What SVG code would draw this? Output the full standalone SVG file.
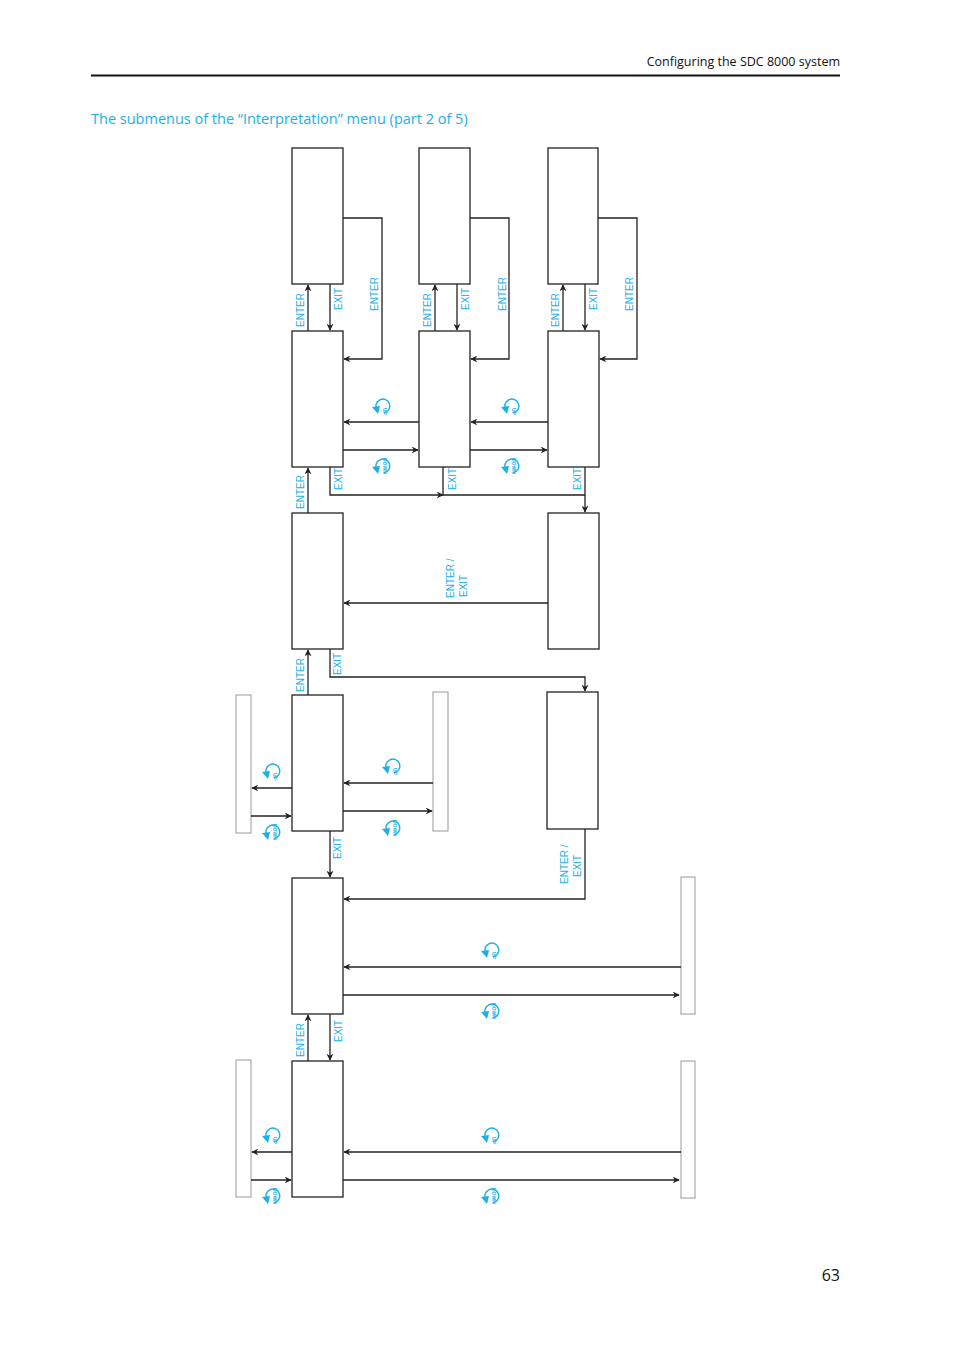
<svg xmlns="http://www.w3.org/2000/svg" width="954" height="1351" viewBox="0 0 954 1351">
<style>
.b{fill:#fff;stroke:#222;stroke-width:1.3}
.g{fill:#fff;stroke:#999;stroke-width:1}
.c line,.c polyline{stroke:#222;stroke-width:1.3;fill:none}
.l{font-family:"Liberation Sans",Arial,sans-serif;font-size:10px;fill:#1ab0e8}
.s{font-family:"Liberation Sans",Arial,sans-serif;font-size:5px;font-weight:bold;fill:#1ab0e8}
.h{font-family:"Open Sans","DejaVu Sans",sans-serif;fill:#111}
</style>
<defs>
<marker id="a" viewBox="0 0 10 10" refX="9" refY="5" markerWidth="7" markerHeight="7" orient="auto" markerUnits="userSpaceOnUse"><path d="M0,0L10,5L0,10L3,5Z" fill="#222"/></marker>
<g id="ic"><path d="M-4,4 A7,7 0 1 1 3,7" fill="none" stroke="#1ab0e8" stroke-width="1.4"/><path d="M-9,1 L-1,0 L-3,8Z" fill="#1ab0e8"/></g>
</defs>
<text class="h" x="840" y="66" font-size="12.5" text-anchor="end">Configuring the SDC 8000 system</text>
<line x1="91" y1="75.5" x2="840" y2="75.5" stroke="#111" stroke-width="2"/>
<text x="91" y="124" font-family="'Open Sans','DejaVu Sans',sans-serif" font-size="14.5" fill="#1ab0e8">The submenus of the “Interpretation” menu (part 2 of 5)</text>
<text class="h" x="840" y="1281" font-size="16" text-anchor="end">63</text>

<g id="nodes">
<g id="n1"><rect class="b" x="292" y="148" width="51" height="136"/></g>
<g id="n2"><rect class="b" x="419" y="148" width="51" height="136"/></g>
<g id="n3"><rect class="b" x="548" y="148" width="50" height="136"/></g>
<g id="n4"><rect class="b" x="292" y="331" width="51" height="136"/></g>
<g id="n5"><rect class="b" x="419" y="331" width="51" height="136"/></g>
<g id="n6"><rect class="b" x="548" y="331" width="51" height="136"/></g>
<g id="n7"><rect class="b" x="292" y="513" width="51" height="136"/></g>
<g id="n8"><rect class="b" x="548" y="513" width="51" height="136"/></g>
<g id="n9"><rect class="b" x="292" y="695" width="51" height="136"/></g>
<g id="n10"><rect class="g" x="236" y="695" width="15" height="138"/></g>
<g id="n11"><rect class="g" x="433" y="692" width="15" height="139"/></g>
<g id="n12"><rect class="b" x="547" y="692" width="51" height="137"/></g>
<g id="n13"><rect class="b" x="292" y="878" width="51" height="136"/></g>
<g id="n14"><rect class="g" x="681" y="877" width="14" height="137"/></g>
<g id="n15"><rect class="b" x="292" y="1061" width="51" height="136"/></g>
<g id="n16"><rect class="g" x="236" y="1060" width="15" height="137"/></g>
<g id="n17"><rect class="g" x="681" y="1061" width="14" height="137"/></g>
</g>

<g id="connectors" class="c">
<line x1="308" y1="331" x2="308" y2="285" marker-end="url(#a)"/>
<line x1="330" y1="284" x2="330" y2="330" marker-end="url(#a)"/>
<line x1="435" y1="331" x2="435" y2="285" marker-end="url(#a)"/>
<line x1="457" y1="284" x2="457" y2="330" marker-end="url(#a)"/>
<line x1="563" y1="331" x2="563" y2="285" marker-end="url(#a)"/>
<line x1="585" y1="284" x2="585" y2="330" marker-end="url(#a)"/>
<polyline points="343,218 382,218 382,359 344,359" marker-end="url(#a)"/>
<polyline points="470,218 509,218 509,359 471,359" marker-end="url(#a)"/>
<polyline points="598,218 637,218 637,359 600,359" marker-end="url(#a)"/>
<line x1="419" y1="422" x2="344" y2="422" marker-end="url(#a)"/>
<line x1="343" y1="450" x2="418" y2="450" marker-end="url(#a)"/>
<line x1="548" y1="422" x2="471" y2="422" marker-end="url(#a)"/>
<line x1="470" y1="450" x2="547" y2="450" marker-end="url(#a)"/>
<polyline points="330,467 330,495 443,495" marker-end="url(#a)"/>
<polyline points="443,467 443,495 585,495"/>
<line x1="585" y1="467" x2="585" y2="512" marker-end="url(#a)"/>
<line x1="308" y1="513" x2="308" y2="468" marker-end="url(#a)"/>
<line x1="548" y1="603" x2="344" y2="603" marker-end="url(#a)"/>
<polyline points="330,649 330,677 585,677 585,691" marker-end="url(#a)"/>
<line x1="308" y1="695" x2="308" y2="650" marker-end="url(#a)"/>
<line x1="292" y1="788" x2="252" y2="788" marker-end="url(#a)"/>
<line x1="251" y1="816" x2="291" y2="816" marker-end="url(#a)"/>
<line x1="433" y1="783" x2="344" y2="783" marker-end="url(#a)"/>
<line x1="343" y1="811" x2="432" y2="811" marker-end="url(#a)"/>
<line x1="330" y1="831" x2="330" y2="877" marker-end="url(#a)"/>
<polyline points="585,829 585,899 344,899" marker-end="url(#a)"/>
<line x1="681" y1="967" x2="344" y2="967" marker-end="url(#a)"/>
<line x1="343" y1="995" x2="679" y2="995" marker-end="url(#a)"/>
<line x1="308" y1="1061" x2="308" y2="1015" marker-end="url(#a)"/>
<line x1="330" y1="1014" x2="330" y2="1060" marker-end="url(#a)"/>
<line x1="292" y1="1152" x2="252" y2="1152" marker-end="url(#a)"/>
<line x1="251" y1="1180" x2="291" y2="1180" marker-end="url(#a)"/>
<line x1="681" y1="1152" x2="344" y2="1152" marker-end="url(#a)"/>
<line x1="343" y1="1180" x2="679" y2="1180" marker-end="url(#a)"/>
</g>

<g id="labels" class="l">
<text transform="translate(304,327) rotate(-90)">ENTER</text>
<text transform="translate(342,310) rotate(-90)">EXIT</text>
<text transform="translate(378,311) rotate(-90)">ENTER</text>
<text transform="translate(431,327) rotate(-90)">ENTER</text>
<text transform="translate(469,310) rotate(-90)">EXIT</text>
<text transform="translate(506,311) rotate(-90)">ENTER</text>
<text transform="translate(559,327) rotate(-90)">ENTER</text>
<text transform="translate(597,310) rotate(-90)">EXIT</text>
<text transform="translate(633,311) rotate(-90)">ENTER</text>
<text transform="translate(342,490) rotate(-90)">EXIT</text>
<text transform="translate(456,490) rotate(-90)">EXIT</text>
<text transform="translate(581,490) rotate(-90)">EXIT</text>
<text transform="translate(304,509) rotate(-90)">ENTER</text>
<text transform="translate(454,598) rotate(-90)">ENTER /</text>
<text transform="translate(467,597) rotate(-90)">EXIT</text>
<text transform="translate(341,675) rotate(-90)">EXIT</text>
<text transform="translate(304,692) rotate(-90)">ENTER</text>
<text transform="translate(341,859) rotate(-90)">EXIT</text>
<text transform="translate(568,884) rotate(-90)">ENTER /</text>
<text transform="translate(581,877) rotate(-90)">EXIT</text>
<text transform="translate(304,1057) rotate(-90)">ENTER</text>
<text transform="translate(342,1042) rotate(-90)">EXIT</text>
</g>

<g id="icons">
<g transform="translate(381,406)"><use href="#ic"/><text class="s" transform="translate(2,2) rotate(90)">UP</text></g>
<g transform="translate(381,466)"><use href="#ic"/><text class="s" transform="translate(2,-8) rotate(90)">DOWN</text></g>
<g transform="translate(510,406)"><use href="#ic"/><text class="s" transform="translate(2,2) rotate(90)">UP</text></g>
<g transform="translate(510,466)"><use href="#ic"/><text class="s" transform="translate(2,-8) rotate(90)">DOWN</text></g>
<g transform="translate(271,771)"><use href="#ic"/><text class="s" transform="translate(2,2) rotate(90)">UP</text></g>
<g transform="translate(271,832)"><use href="#ic"/><text class="s" transform="translate(2,-8) rotate(90)">DOWN</text></g>
<g transform="translate(391,766)"><use href="#ic"/><text class="s" transform="translate(2,2) rotate(90)">UP</text></g>
<g transform="translate(391,828)"><use href="#ic"/><text class="s" transform="translate(2,-8) rotate(90)">DOWN</text></g>
<g transform="translate(490,950)"><use href="#ic"/><text class="s" transform="translate(2,2) rotate(90)">UP</text></g>
<g transform="translate(490,1011)"><use href="#ic"/><text class="s" transform="translate(2,-8) rotate(90)">DOWN</text></g>
<g transform="translate(271,1135)"><use href="#ic"/><text class="s" transform="translate(2,2) rotate(90)">UP</text></g>
<g transform="translate(271,1196)"><use href="#ic"/><text class="s" transform="translate(2,-8) rotate(90)">DOWN</text></g>
<g transform="translate(490,1135)"><use href="#ic"/><text class="s" transform="translate(2,2) rotate(90)">UP</text></g>
<g transform="translate(490,1196)"><use href="#ic"/><text class="s" transform="translate(2,-8) rotate(90)">DOWN</text></g>
</g>
</svg>
